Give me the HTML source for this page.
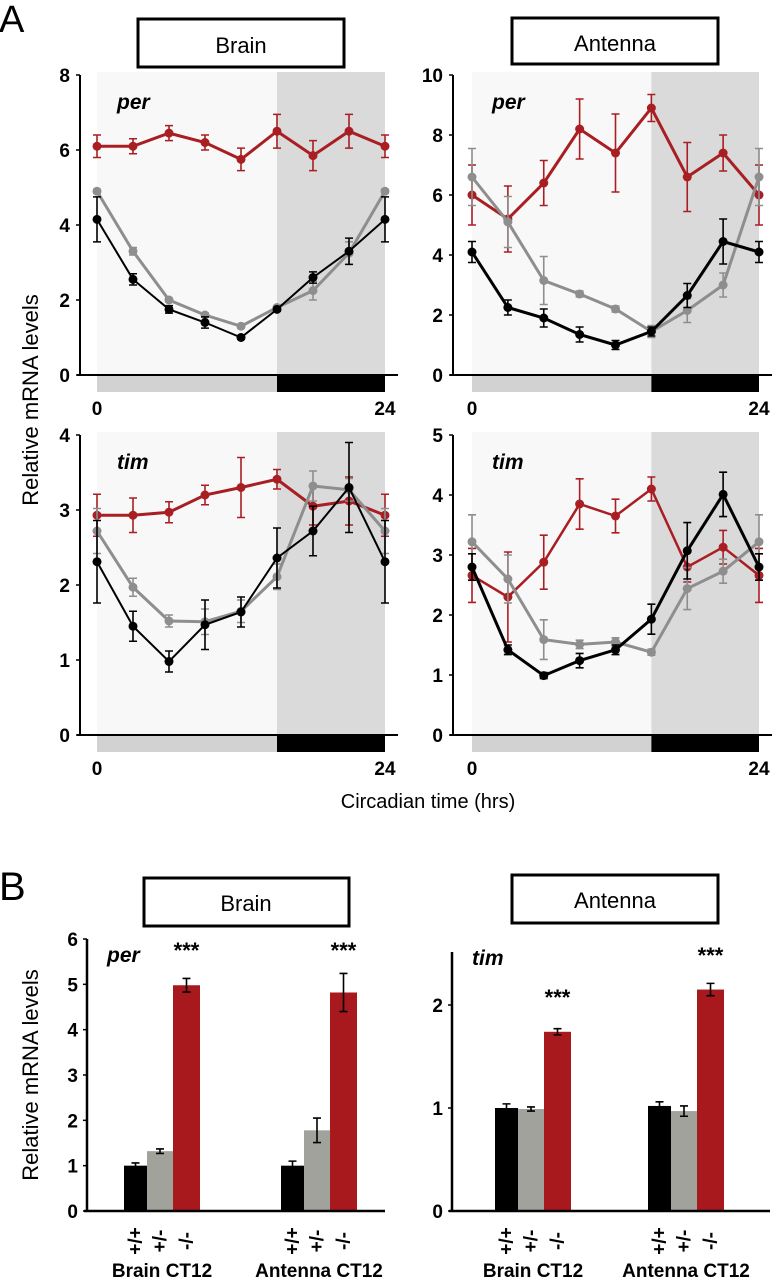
<!DOCTYPE html>
<html><head><meta charset="utf-8"><style>
html,body{margin:0;padding:0;background:#fff;}
svg{display:block;font-family:"Liberation Sans",Arial,sans-serif;}
</style></head><body>
<svg id="fig" width="775" height="1280" viewBox="0 0 775 1280" xmlns="http://www.w3.org/2000/svg">
<text x="-1" y="32" font-size="38">A</text>
<text x="-1" y="900" font-size="40">B</text>
<rect x="138" y="19" width="206" height="48" fill="#fff" stroke="#000" stroke-width="3"/>
<text x="241" y="53" font-size="22" text-anchor="middle">Brain</text>
<rect x="512" y="18" width="206" height="46" fill="#fff" stroke="#000" stroke-width="3"/>
<text x="615" y="51" font-size="22" text-anchor="middle">Antenna</text>
<text transform="translate(38,400) rotate(-90)" font-size="22" text-anchor="middle">Relative mRNA levels</text>
<text x="428" y="808" font-size="20" text-anchor="middle">Circadian time (hrs)</text>
<rect x="144" y="878" width="205" height="48" fill="#fff" stroke="#000" stroke-width="3"/>
<text x="246" y="911" font-size="22" text-anchor="middle">Brain</text>
<rect x="512" y="875" width="206" height="48" fill="#fff" stroke="#000" stroke-width="3"/>
<text x="615" y="908" font-size="22" text-anchor="middle">Antenna</text>
<text transform="translate(38,1075) rotate(-90)" font-size="22" text-anchor="middle">Relative mRNA levels</text>
</svg>
<script>
const NS='http://www.w3.org/2000/svg';
const svg=document.getElementById('fig');
const ctTicks=['0','24'];
// Brain per
const bpRed=[6.1,6.1,6.45,6.2,5.75,6.5,5.85,6.5,6.1];
const bpRedErr=[0.3,0.2,0.2,0.2,0.3,0.45,0.4,0.45,0.3];
const bpGray=[4.9,3.3,2.0,1.6,1.3,1.8,2.25,3.25,4.9];
const bpGrayErr=[0.05,0.1,0.05,0.05,0.05,0.05,0.25,0.3,0.05];
const bpBlack=[4.15,2.55,1.75,1.4,1.0,1.75,2.6,3.3,4.15];
const bpBlackErr=[0.6,0.15,0.1,0.15,0.05,0.05,0.15,0.35,0.6];
const bpTicks=[0,2,4,6,8];
// Antenna per
const apRed=[6.0,5.2,6.4,8.2,7.4,8.9,6.6,7.4,6.0];
const apRedErr=[1.0,1.1,0.75,1.0,1.3,0.45,1.15,0.6,1.0];
const apGray=[6.6,5.1,3.15,2.7,2.2,1.45,2.15,3.0,6.6];
const apGrayErr=[0.95,0.85,0.8,0.1,0.1,0.2,0.4,0.4,0.95];
const apBlack=[4.1,2.25,1.9,1.35,1.0,1.45,2.65,4.45,4.1];
const apBlackErr=[0.35,0.25,0.3,0.25,0.15,0.15,0.4,0.75,0.35];
const apTicks=[0,2,4,6,8,10];
// Brain tim
const btRed=[2.93,2.93,2.97,3.2,3.3,3.41,3.05,3.12,2.93];
const btRedErr=[0.28,0.23,0.14,0.13,0.4,0.13,0.25,0.32,0.28];
const btGray=[2.72,1.97,1.52,1.51,1.65,2.11,3.32,3.27,2.72];
const btGrayErr=[0.3,0.12,0.08,0.17,0.15,0.17,0.2,0.15,0.3];
const btBlack=[2.31,1.45,0.98,1.47,1.64,2.36,2.72,3.3,2.31];
const btBlackErr=[0.55,0.2,0.14,0.33,0.2,0.4,0.33,0.6,0.55];
const btTicks=[0,1,2,3,4];
// Antenna tim
const atRed=[2.66,2.3,2.88,3.85,3.65,4.1,2.8,3.13,2.66];
const atRedErr=[0.45,0.75,0.45,0.42,0.28,0.2,0.25,0.28,0.45];
const atGray=[3.22,2.6,1.59,1.51,1.55,1.38,2.44,2.73,3.22];
const atGrayErr=[0.45,0.4,0.33,0.07,0.07,0.05,0.35,0.2,0.45];
const atBlack=[2.8,1.42,0.99,1.24,1.42,1.93,3.07,4.01,2.8];
const atBlackErr=[0.22,0.08,0.05,0.12,0.08,0.25,0.47,0.37,0.22];
const atTicks=[0,1,2,3,4,5];
// Bars
const barGroups=['Brain CT12','Antenna CT12'];
const genotypes=['+/+','+/-','-/-'];
const perBars=[[1.0,1.32,4.98],[1.0,1.78,4.82]];
const perBarErr=[[0.06,0.05,0.15],[0.1,0.27,0.42]];
const perTicks=[0,1,2,3,4,5,6];
const timBars=[[1.0,0.99,1.74],[1.02,0.97,2.15]];
const timBarErr=[[0.04,0.02,0.03],[0.04,0.05,0.06]];
const timTicks=[0,1,2];

function mk(tag,attrs,parent){const e=document.createElementNS(NS,tag);for(const k in attrs)e.setAttribute(k,attrs[k]);(parent||svg).appendChild(e);return e;}
const RED='#a81e22',GRAY='#8e8e8e',BLACK='#000';

function linePanel(name,axX,x0,x1,yTop,y0,ymax,ticks,gene,series){
  const g=mk('g',{});
  
  
  const n=series[0].v.length;
  const xs=i=>x0+(x1-x0)*i/(n-1);
  const ys=v=>y0-(y0-yTop)*v/ymax;
  const xd=xs(5);
  const bgL=mk('rect',{x:x0,y:yTop-3,width:xd-x0,height:y0-yTop+3,fill:'#f8f8f8'},g);
  
  const bgD=mk('rect',{x:xd,y:yTop-3,width:x1-xd,height:y0-yTop+3,fill:'#dadada'},g);
  
  const lb=mk('rect',{x:x0,y:y0,width:xd-x0,height:17,fill:'#d2d2d2'},g);
  
  const db=mk('rect',{x:xd,y:y0,width:x1-xd,height:17,fill:'#000'},g);
  
  const ax=mk('path',{d:`M${axX} ${yTop} V${y0} M${axX-3} ${y0} H${x1+13}`,stroke:'#000','stroke-width':2,fill:'none'},g);
  
  ticks.forEach(t=>{
    const y=ys(t);
    const tk=mk('line',{x1:axX-4,x2:axX,y1:y,y2:y,stroke:'#000','stroke-width':1.5},g);
    
    const tl=mk('text',{x:axX-10,y:y+7,'font-size':19,'font-weight':'bold','text-anchor':'end'},g);
    tl.textContent=t;
    
  });
  [x0,x1].forEach((x,i)=>{
    const tl=mk('text',{x:x,y:y0+40,'font-size':19,'font-weight':'bold','text-anchor':'middle'},g);
    tl.textContent=ctTicks[i];
    
  });
  const gl=mk('text',{x:x0+20,y:yTop+34,'font-size':21,'font-weight':'bold','font-style':'italic'},g);
  gl.textContent=gene;
  
  series.forEach(s=>{
    const sg=mk('g',{},g);
    
    const d=s.v.map((v,i)=>(i?'L':'M')+xs(i)+' '+ys(v)).join(' ');
    const p=mk('path',{d:d,stroke:s.c,'stroke-width':s.w,fill:'none'},sg);
    
    s.v.forEach((v,i)=>{
      const x=xs(i),yh=ys(v+s.e[i]),yl=ys(v-s.e[i]);
      const eb=mk('path',{d:`M${x} ${yh} V${yl} M${x-4} ${yh} H${x+4} M${x-4} ${yl} H${x+4}`,stroke:s.c,'stroke-width':1.6,fill:'none'},sg);
      
      const c=mk('circle',{cx:x,cy:ys(v),r:4.5,fill:s.c},sg);
      
    });
  });
}
function S(name,v,e,c,w){return {name,v,e,c,w};}
linePanel('brain-per-chart',80,97,385,75,375,8,bpTicks,'per',[S('per-minus-series',bpRed,bpRedErr,RED,3),S('het-series',bpGray,bpGrayErr,GRAY,3),S('wild-type-series',bpBlack,bpBlackErr,BLACK,2)]);
linePanel('antenna-per-chart',453,472,759,75,375,10,apTicks,'per',[S('per-minus-series',apRed,apRedErr,RED,3),S('het-series',apGray,apGrayErr,GRAY,3),S('wild-type-series',apBlack,apBlackErr,BLACK,3)]);
linePanel('brain-tim-chart',80,97,385,435,735,4,btTicks,'tim',[S('per-minus-series',btRed,btRedErr,RED,3),S('het-series',btGray,btGrayErr,GRAY,3),S('wild-type-series',btBlack,btBlackErr,BLACK,2)]);
linePanel('antenna-tim-chart',453,472,759,435,735,5,atTicks,'tim',[S('per-minus-series',atRed,atRedErr,RED,2.5),S('het-series',atGray,atGrayErr,GRAY,3),S('wild-type-series',atBlack,atBlackErr,BLACK,3)]);

function barPanel(name,axX,xEnd,yTop,y0,yAxTop,ymax,ticks,gene,geneY,vals,errs,groupX,starY){
  const g=mk('g',{});
  
  const ys=v=>y0-(y0-yTop)*v/ymax;
  const cols=['#000','#a2a29c','#a8191d'];
  const bw=[23,26,27];
  vals.forEach((grp,gi)=>{
    let x=groupX[gi];
    grp.forEach((v,k)=>{
      const r=mk('rect',{x:x,y:ys(v),width:bw[k],height:y0-ys(v),fill:cols[k]},g);
      
      const cx=x+bw[k]/2,yh=ys(v+errs[gi][k]),yl=ys(v-errs[gi][k]);
      const eb=mk('path',{d:`M${cx} ${yh} V${yl} M${cx-4} ${yh} H${cx+4} M${cx-4} ${yl} H${cx+4}`,stroke:'#000','stroke-width':1.6,fill:'none'},g);
      
      const gt=mk('text',{transform:`translate(${cx+6},${y0+30}) rotate(-90)`,'font-size':19,'font-weight':'bold','text-anchor':'middle'},g);
      gt.textContent=genotypes[k];
      
      if(k===2){
        const st=mk('text',{x:cx,y:starY[gi]+13,'font-size':22,'font-weight':'bold','text-anchor':'middle'},g);
        st.textContent='***';
        
      }
      x+=bw[k];
    });
    const gl=mk('text',{x:groupX[gi]+38,y:y0+66,'font-size':19,'font-weight':'bold','text-anchor':'middle'},g);
    gl.textContent=barGroups[gi];
    
  });
  const ax=mk('path',{d:`M${axX} ${yAxTop} V${y0} M${axX-3} ${y0} H${xEnd}`,stroke:'#000','stroke-width':2.5,fill:'none'},g);
  
  ticks.forEach(t=>{
    const y=ys(t);
    const tk=mk('line',{x1:axX-4,x2:axX,y1:y,y2:y,stroke:'#000','stroke-width':1.5},g);
    
    const tl=mk('text',{x:axX-9,y:y+7,'font-size':19,'font-weight':'bold','text-anchor':'end'},g);
    tl.textContent=t;
    
  });
  const gn=mk('text',{x:axX+20,y:geneY,'font-size':21,'font-weight':'bold','font-style':'italic'},g);
  gn.textContent=gene;
  
}
barPanel('brain-per-bar-chart',87,385,939,1211,939,6,perTicks,'per',962,perBars,perBarErr,[124,281],[945,945]);
barPanel('antenna-tim-bar-chart',452,770,1005,1211,952,2,timTicks,'tim',965,timBars,timBarErr,[495,648],[992,950]);
</script>
</body></html>
